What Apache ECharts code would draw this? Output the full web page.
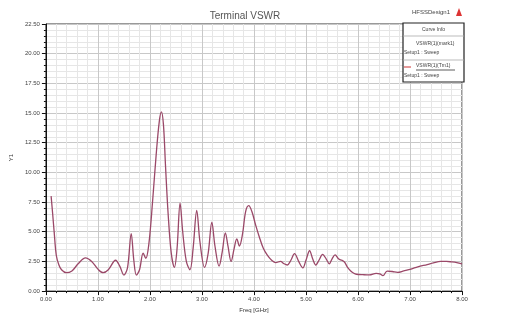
<!DOCTYPE html>
<html><head><meta charset="utf-8">
<script src="https://cdn.jsdelivr.net/npm/echarts@6/dist/echarts.min.js"></script>
<style>html,body{margin:0;padding:0;background:#fff}#c{width:507px;height:318px}</style>
</head><body><div id="c"></div>
<script>
const freq = [0.10,0.13,0.16,0.20,0.25,0.30,0.39,0.50,0.62,0.76,0.88,1.00,1.10,1.20,1.34,1.42,1.50,1.57,1.64,1.69,1.74,1.80,1.87,1.92,1.98,2.05,2.12,2.18,2.22,2.26,2.30,2.35,2.41,2.47,2.52,2.58,2.63,2.70,2.77,2.83,2.90,2.96,3.05,3.12,3.19,3.25,3.33,3.39,3.45,3.50,3.56,3.62,3.67,3.72,3.78,3.84,3.90,3.96,4.03,4.10,4.18,4.26,4.34,4.42,4.51,4.58,4.64,4.71,4.78,4.86,4.94,5.00,5.07,5.13,5.19,5.25,5.32,5.39,5.45,5.50,5.56,5.63,5.69,5.74,5.80,5.86,5.92,5.97,6.10,6.22,6.35,6.42,6.48,6.56,6.66,6.76,6.88,7.02,7.15,7.33,7.45,7.59,7.70,7.80,7.90,8.00];
const vswr = [8.0,6.5,4.9,3.0,2.2,1.8,1.55,1.7,2.3,2.8,2.5,1.85,1.55,1.8,2.6,2.1,1.35,2.0,4.85,2.6,1.35,1.8,3.2,2.75,4.0,7.5,11.5,14.3,15.1,14.0,10.5,6.5,3.2,2.0,3.5,7.4,5.0,2.5,1.8,3.6,6.8,4.2,2.0,3.2,5.8,3.8,2.1,3.3,4.9,3.8,2.5,3.6,4.4,3.8,4.8,6.7,7.2,6.7,5.6,4.6,3.6,3.0,2.6,2.4,2.5,2.3,2.2,2.6,3.15,2.5,1.96,2.6,3.4,2.7,2.2,2.6,3.1,2.7,2.3,2.7,3.05,2.7,2.6,2.45,2.0,1.7,1.5,1.42,1.38,1.36,1.5,1.45,1.3,1.69,1.65,1.58,1.7,1.85,2.05,2.24,2.38,2.5,2.5,2.46,2.4,2.3];
const title = 'Terminal VSWR';
const designName = 'HFSSDesign1';
const legendHeader = 'Curve Info';
const legendEntries = [['VSWR(1)(mark1)','Setup1 : Sweep'],['VSWR(1)(Tm1)','Setup1 : Sweep']];
const xName = 'Freq [GHz]';
const yName = 'Y1';

const font = 'Liberation Sans';
const chart = echarts.init(document.getElementById('c'), null, {renderer:'canvas'});
const data = freq.map((f,i)=>[f,vswr[i]]);
chart.setOption({
  animation:false,
  title:{text:title,left:240,top:6,textAlign:'center',textStyle:{fontFamily:font,fontSize:10,fontWeight:'normal',color:'#555'}},
  grid:{left:41,right:45,top:24,bottom:21.5,show:true,borderColor:'#333',borderWidth:1,containLabel:false},
  xAxis:{type:'value',min:0,max:8,interval:1,name:xName,nameLocation:'middle',nameGap:13,
    nameTextStyle:{fontFamily:font,fontSize:6,color:'#333'},
    axisLine:{show:true,lineStyle:{color:'#111',width:1}},
    axisTick:{show:true,inside:false,length:4,lineStyle:{color:'#111'}},
    minorTick:{show:true,splitNumber:5,length:2,lineStyle:{color:'#111'}},
    splitLine:{show:true,lineStyle:{color:'#c8c8c8',width:1}},
    minorSplitLine:{show:true,lineStyle:{color:'#e6e6e6',width:1}},
    axisLabel:{formatter:v=>v.toFixed(2),fontFamily:font,fontSize:6,color:'#444',margin:5}},
  yAxis:{type:'value',min:0,max:22.5,interval:2.5,name:yName,nameLocation:'middle',nameGap:25,nameRotate:90,
    nameTextStyle:{fontFamily:font,fontSize:6,color:'#333'},
    axisLine:{show:true,lineStyle:{color:'#111',width:1}},
    axisTick:{show:true,inside:false,length:4,lineStyle:{color:'#111'}},
    minorTick:{show:true,splitNumber:5,length:2,lineStyle:{color:'#111'}},
    splitLine:{show:true,lineStyle:{color:'#c8c8c8',width:1}},
    minorSplitLine:{show:true,lineStyle:{color:'#e6e6e6',width:1}},
    axisLabel:{formatter:v=>v.toFixed(2),fontFamily:font,fontSize:6,color:'#444',margin:6}},
  series:[{type:'line',data:data,showSymbol:false,smooth:0.35,lineStyle:{color:'#9a4868',width:1.3}}],
  graphic:[
    {type:'text',z:100,left:412,top:9,style:{text:designName,font:'6px '+font,fill:'#444'}},
    {type:'polygon',z:100,shape:{points:[[459,8],[456,16],[462,16]]},style:{fill:'#d33'}},
    {type:'rect',z:100,shape:{x:403,y:23,width:61,height:59},style:{fill:'#fff',stroke:'#222',lineWidth:1.2}},
    {type:'text',z:101,left:422,top:27,style:{text:legendHeader,font:'5px '+font,fill:'#444'}},
    {type:'line',z:101,shape:{x1:403,y1:36,x2:464,y2:36},style:{stroke:'#aaa',lineWidth:0.8}},
    {type:'text',z:101,left:416,top:41,style:{text:legendEntries[0][0],font:'5px '+font,fill:'#444'}},
    {type:'text',z:101,left:404,top:50,style:{text:legendEntries[0][1],font:'5px '+font,fill:'#444'}},
    {type:'line',z:101,shape:{x1:403,y1:60,x2:464,y2:60},style:{stroke:'#aaa',lineWidth:0.8}},
    {type:'line',z:101,shape:{x1:404,y1:67,x2:411,y2:67},style:{stroke:'#c33',lineWidth:1}},
    {type:'text',z:101,left:416,top:63,style:{text:legendEntries[1][0],font:'5px '+font,fill:'#444'}},
    {type:'line',z:101,shape:{x1:416,y1:70,x2:455,y2:70},style:{stroke:'#333',lineWidth:0.8}},
    {type:'text',z:101,left:404,top:73,style:{text:legendEntries[1][1],font:'5px '+font,fill:'#444'}}
  ]
});
</script></body></html>
